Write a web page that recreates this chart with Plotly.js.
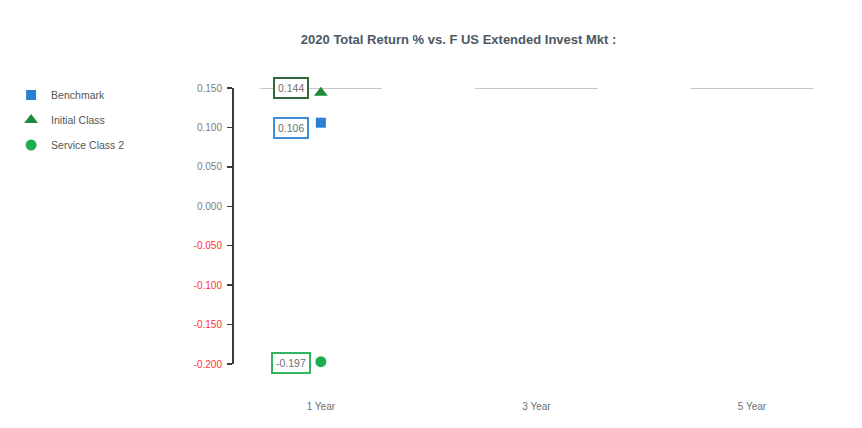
<!DOCTYPE html>
<html>
<head>
<meta charset="utf-8">
<script src="https://cdn.plot.ly/plotly-3.0.1.min.js"></script>
<style>html,body{margin:0;padding:0;background:#fff;}#chart{width:862px;height:428px;}</style>
</head>
<body>
<div id="chart"></div>
<script>
// ---- data ----
const periods = ["1 Year", "3 Year", "5 Year"];
const seriesNames = ["Benchmark", "Initial Class", "Service Class 2"];
const benchmark = [0.106, null, null];
const initialClass = [0.144, null, null];
const serviceClass2 = [-0.197, null, null];
const refLevel = [0.15, 0.15, 0.15];
const yTickVals = [0.15, 0.10, 0.05, 0.0, -0.05, -0.10, -0.15, -0.20];
const titleText = "2020 Total Return % vs. F US Extended Invest Mkt :";

// ---- styles ----
const colors = {benchmark: "#2b7fd3", initial: "#1e8a3c", service: "#1fae4e"};
const boxColors = {benchmark: "#3b8dd8", initial: "#2e6a3c", service: "#33b560"};
const xs = periods.map((_, i) => i);
const FONT = "Liberation Sans, Arial, sans-serif";

// reference segments
const segX = [], segY = [];
refLevel.forEach((v, i) => {
  if (v === null) return;
  segX.push(i - 0.284, i + 0.284, null);
  segY.push(v, v, null);
});

const traces = [
  {x: segX, y: segY, mode: "lines", line: {color: "#c6c6c6", width: 2.2}, showlegend: false, hoverinfo: "skip", cliponaxis: false},
  {x: xs, y: benchmark, name: seriesNames[0], mode: "markers", legendgroup: "a", cliponaxis: false,
   marker: {symbol: "square", size: 10, color: colors.benchmark}},
  {x: xs, y: initialClass, name: seriesNames[1], mode: "markers", legendgroup: "b", cliponaxis: false,
   marker: {symbol: "triangle-up", size: 12, color: colors.initial}},
  {x: xs, y: serviceClass2, name: seriesNames[2], mode: "markers", legendgroup: "c", cliponaxis: false,
   marker: {symbol: "circle", size: 11, color: colors.service}}
];

const labelSpecs = [
  {vals: benchmark, color: boxColors.benchmark, yshift: -5},
  {vals: initialClass, color: boxColors.initial, yshift: 5},
  {vals: serviceClass2, color: boxColors.service, yshift: -1}
];
const annotations = [];
labelSpecs.forEach(s => {
  s.vals.forEach((v, i) => {
    if (v === null) return;
    annotations.push({
      x: i, y: v, xref: "x", yref: "y", text: v.toFixed(3),
      showarrow: false, xshift: -30, yshift: s.yshift,
      bordercolor: s.color, borderwidth: 2, borderpad: 3, bgcolor: "#fff",
      font: {family: FONT, size: 10.5, color: "#6b6f75"}
    });
  });
});

const tickText = yTickVals.map(v => {
  const t = v.toFixed(3);
  return v < 0 ? '<span style="color:#ff3535">' + t + '</span>' : t;
});

const layout = {
  width: 862, height: 428,
  margin: {l: 233, r: 13, t: 88, b: 64},
  paper_bgcolor: "#fff", plot_bgcolor: "#fff",
  font: {family: FONT, color: "#6b6f75", size: 10},
  title: {text: "<b>" + titleText + "</b>", x: 0.532, xanchor: "center", y: 0.907, yanchor: "middle",
          font: {size: 13, color: "#4d5862", family: FONT}},
  xaxis: {range: [-0.403, 2.45], tickvals: xs, ticktext: periods, showgrid: false, zeroline: false,
          showline: false, ticks: "", ticklabelstandoff: 35, tickfont: {size: 10, color: "#6b6f75"}, fixedrange: true},
  yaxis: {range: [-0.2, 0.15], tickvals: yTickVals, ticktext: tickText, showgrid: false, zeroline: false,
          showline: true, linecolor: "#3a3a3a", linewidth: 2, ticks: "outside", ticklen: 5, tickcolor: "#3a3a3a",
          tickwidth: 1.5, ticklabelstandoff: 3, tickfont: {size: 10, color: "#7a7e84"}, fixedrange: true},
  showlegend: true,
  legend: {x: -0.3602, xanchor: "left", y: 1.027, yanchor: "top", tracegroupgap: 6, itemwidth: 30,
           font: {size: 10.5, color: "#555", family: FONT}, bgcolor: "rgba(0,0,0,0)"},
  annotations: annotations,
  shapes: [{type: "line", xref: "paper", yref: "paper", x0: -0.3865, x1: -0.3865, y0: -0.25, y1: 1.27,
            line: {color: "#f0f0f0", width: 2}}]
};

Plotly.newPlot("chart", traces, layout, {displayModeBar: false, staticPlot: true});
</script>
</body>
</html>
